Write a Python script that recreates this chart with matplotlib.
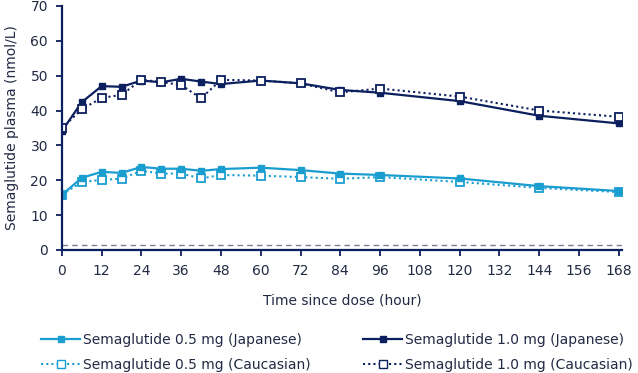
import matplotlib
matplotlib.use('Agg')
import matplotlib.pyplot as plt
from matplotlib.lines import Line2D

# Time points (hours)
hours = [0, 6, 12, 18, 24, 30, 36, 42, 48, 60, 72, 84, 96, 120, 144, 168]

# Mean plasma concentration (nmol/L)
jp_05 = [15.8, 20.7, 22.4, 22.1, 23.8, 23.3, 23.3, 22.7, 23.2, 23.6, 22.9, 21.9, 21.5, 20.5, 18.3, 16.9]
ca_05 = [15.8, 19.5, 20.1, 20.4, 22.7, 21.9, 21.9, 20.5, 21.5, 21.3, 20.9, 20.4, 20.9, 19.5, 17.8, 16.6]
jp_10 = [34.1, 42.4, 47.0, 46.8, 48.6, 48.1, 49.1, 48.3, 47.6, 48.6, 47.8, 45.9, 45.1, 42.7, 38.5, 36.3]
ca_10 = [34.9, 40.4, 43.6, 44.5, 48.8, 48.2, 47.3, 43.5, 48.8, 48.6, 47.8, 45.2, 46.3, 44.0, 40.0, 38.2]
lloq = 1.4

navy = '#0c1f5e'
light = '#1a9ed0'
text_col = '#222a44'

plt.rcParams['font.family'] = ['DejaVu Sans']
fig = plt.figure(figsize=(6.38, 3.73), dpi=100)
ax = fig.add_axes([0.097, 0.330, 0.878, 0.654])

ax.axhline(lloq, color='#7a8096', linestyle=(0, (4, 3)), linewidth=1)

open_kw = dict(marker='s', markersize=5.5, markerfacecolor='white', markeredgewidth=1.3)
fill_kw = dict(marker='s', markersize=4.5)

ax.plot(hours, ca_05, color=light, linestyle=(0, (1, 1.5)), linewidth=1.5,
        markeredgecolor=light, **open_kw)
ax.plot(hours, jp_05, color=light, linestyle='-', linewidth=1.6,
        markerfacecolor=light, markeredgecolor=light, **fill_kw)
ax.plot(hours, jp_10, color=navy, linestyle='-', linewidth=1.6,
        markerfacecolor=navy, markeredgecolor=navy, **fill_kw)
ax.plot(hours, ca_10, color=navy, linestyle=(0, (1, 1.5)), linewidth=1.5,
        markeredgecolor=navy, **open_kw)

ax.set_xlim(0, 169)
ax.set_ylim(0, 70)
ax.set_xticks(range(0, 169, 12))
ax.set_yticks(range(0, 71, 10))
ax.spines['top'].set_visible(False)
ax.spines['right'].set_visible(False)
for s in ['left', 'bottom']:
    ax.spines[s].set_color(navy)
    ax.spines[s].set_linewidth(1.6)
ax.tick_params(colors=navy, labelcolor=text_col, labelsize=10, length=4, width=1.3, pad=6)
ax.set_xlabel('Time since dose (hour)', fontsize=10, color=text_col, labelpad=11)
ax.set_ylabel('Semaglutide plasma (nmol/L)', fontsize=10, color=text_col, labelpad=8)

handles = [
    Line2D([], [], color=light, linestyle='-', linewidth=1.6, marker='s', markersize=4.5,
           markerfacecolor=light, markeredgecolor=light),
    Line2D([], [], color=light, linestyle=(0, (1, 1.5)), linewidth=1.5, marker='s', markersize=5.5,
           markerfacecolor='white', markeredgecolor=light),
    Line2D([], [], color=navy, linestyle='-', linewidth=1.6, marker='s', markersize=4.5,
           markerfacecolor=navy, markeredgecolor=navy),
    Line2D([], [], color=navy, linestyle=(0, (1, 1.5)), linewidth=1.5, marker='s', markersize=5.5,
           markerfacecolor='white', markeredgecolor=navy),
]
labels = ['Semaglutide 0.5 mg (Japanese)', 'Semaglutide 0.5 mg (Caucasian)',
          'Semaglutide 1.0 mg (Japanese)', 'Semaglutide 1.0 mg (Caucasian)']
leg = fig.legend(handles, labels, ncol=2, loc='lower left', bbox_to_anchor=(0.045, -0.03),
                 frameon=False, fontsize=10, handlelength=2.8, handletextpad=0.2,
                 columnspacing=3.8, labelspacing=0.75)
for t in leg.get_texts():
    t.set_color(text_col)

fig.savefig('out.png', dpi=100)
